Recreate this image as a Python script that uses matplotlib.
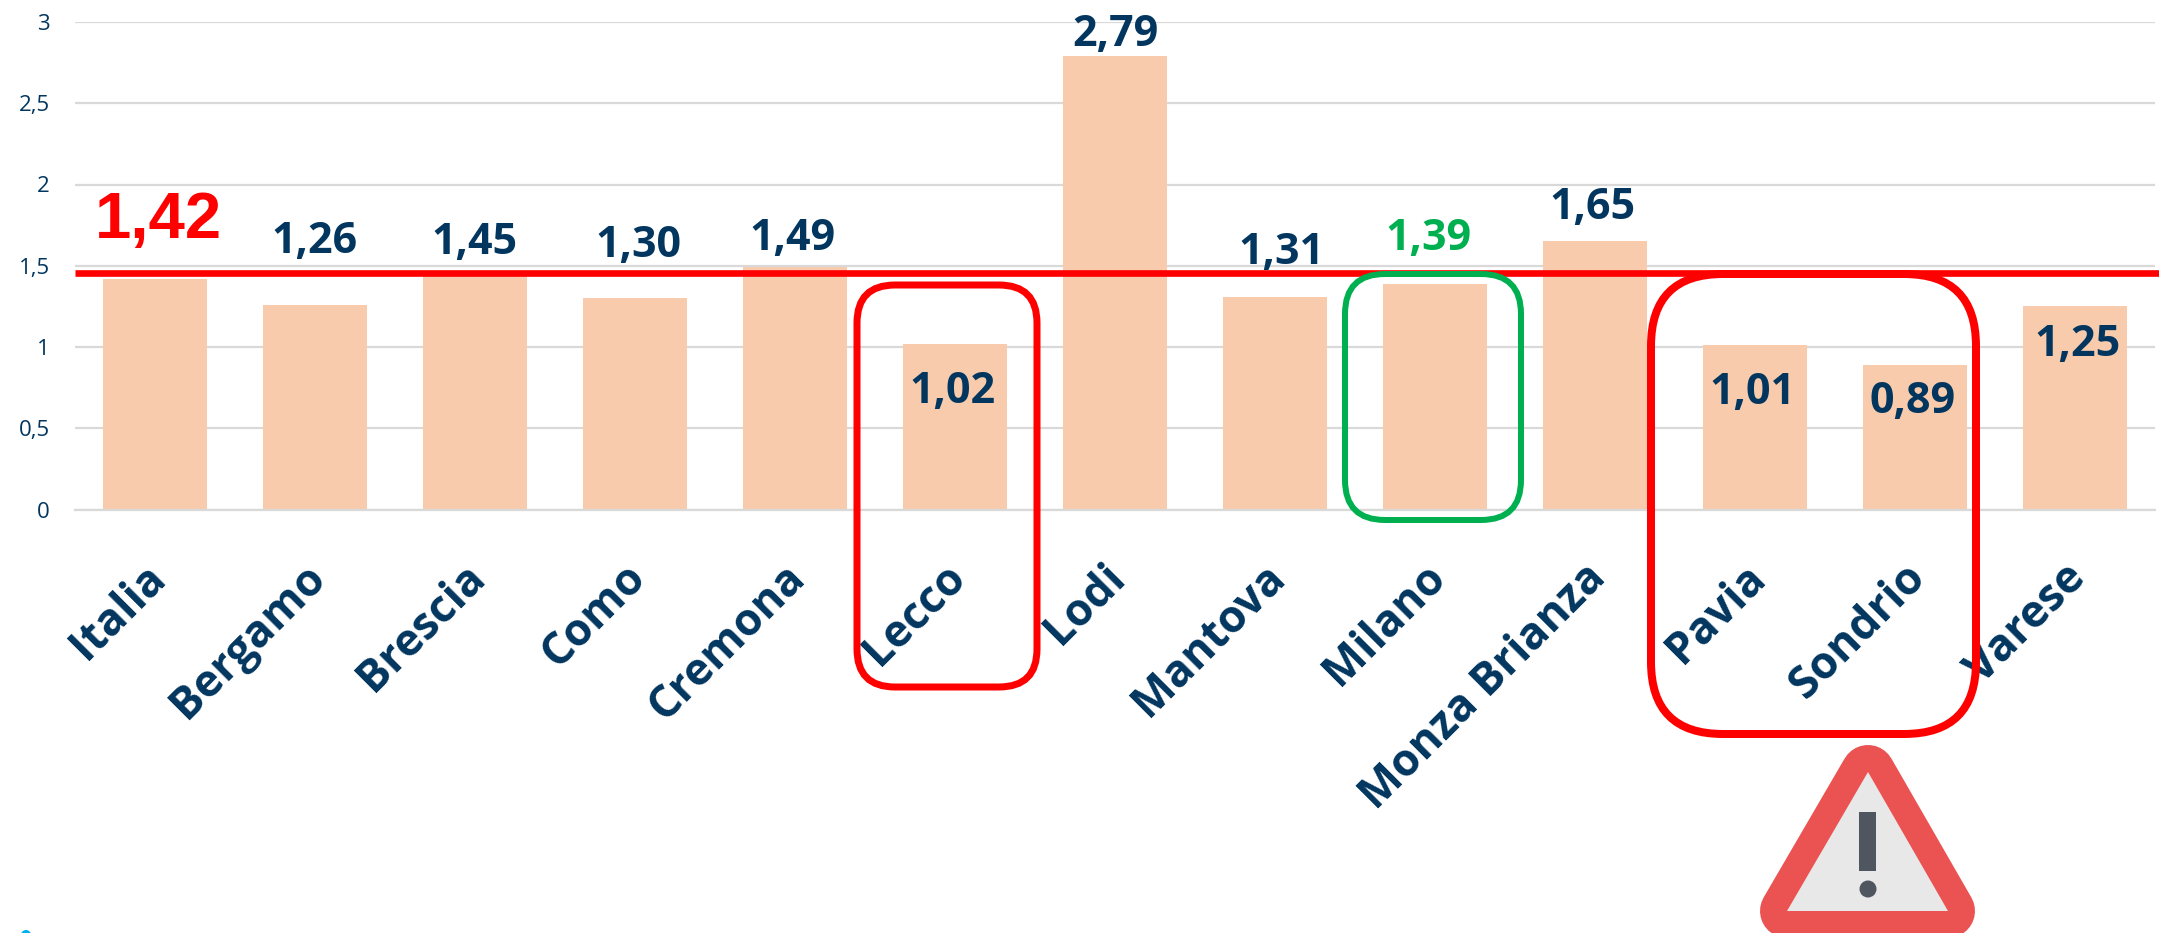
import matplotlib
matplotlib.use('Agg')
import matplotlib.pyplot as plt
from matplotlib.patches import FancyBboxPatch, Polygon, Rectangle, Circle
from matplotlib.transforms import Affine2D, ScaledTranslation

W, H = 2159, 933
NAVY = '#02365F'

provinces = ['Italia', 'Bergamo', 'Brescia', 'Como', 'Cremona', 'Lecco', 'Lodi',
             'Mantova', 'Milano', 'Monza Brianza', 'Pavia', 'Sondrio', 'Varese']
values = [1.42, 1.26, 1.45, 1.30, 1.49, 1.02, 2.79, 1.31, 1.39, 1.65, 1.01, 0.89, 1.25]
value_labels = ['1,42', '1,26', '1,45', '1,30', '1,49', '1,02', '2,79',
                '1,31', '1,39', '1,65', '1,01', '0,89', '1,25']
y_ticks = [0, 0.5, 1, 1.5, 2, 2.5, 3]
y_tick_labels = ['0', '0,5', '1', '1,5', '2', '2,5', '3']
reference_line = 1.455

# label offsets from the bar top, in pixels (x right, y up)
label_dx = [3, -1, 0, 3, -3, -3, 0, 6, -6, -2, -3, -2, 3]
label_dy = [64, 68, 36, 58, 34, -43, 27, 49, 50, 39, -42, -32, -33]

fig = plt.figure(figsize=(W / 100, H / 100), dpi=100, facecolor='white')
ax = fig.add_axes([75 / W, (H - 509.5) / H, 2080 / W, 487.5 / H])
ax.set_xlim(-0.5, 12.5)
ax.set_ylim(0, 3)

ax.bar(range(len(values)), values, width=0.65, color='#F7CBAC', zorder=2)
ax.set_axisbelow(True)
ax.grid(axis='y', color='#D9D9D9', lw=1.6, zorder=1)
for s in ['top', 'right', 'left']:
    ax.spines[s].set_visible(False)
ax.spines['bottom'].set_color('#D9D9D9')
ax.spines['bottom'].set_linewidth(1.6)

ax.set_yticks(y_ticks, y_tick_labels, family='Open Sans', fontsize=16, color=NAVY)
ax.tick_params(axis='y', length=0, pad=18)
ax.set_xticks(range(len(provinces)), provinces, family='Open Sans', fontweight='bold',
              fontsize=32, color=NAVY, rotation=45, ha='right', va='top',
              rotation_mode='anchor')
ax.tick_params(axis='x', length=0, pad=33)
shift = ScaledTranslation(-12 / 100, 0, fig.dpi_scale_trans)
for lab in ax.get_xticklabels():
    lab.set_transform(lab.get_transform() + shift)

ax.plot([-0.5, 12.6], [reference_line, reference_line], color='#FF0000', lw=4.8,
        zorder=3, clip_on=False, solid_capstyle='butt')

for i, txt in enumerate(value_labels):
    color = NAVY
    font = dict(family='Open Sans', fontweight='bold', fontsize=31)
    if i == 0:
        color = '#FF0000'
        font = dict(family='Liberation Sans', fontweight='bold', fontsize=47)
    elif provinces[i] == 'Milano':
        color = '#00B050'
    ax.annotate(txt, (i, values[i]), xytext=(label_dx[i], label_dy[i]),
                textcoords='offset pixels', ha='center', va='center_baseline',
                color=color, zorder=5, **font)

# overlay shapes drawn in image pixels, origin top left
px = Affine2D().scale(1, -1).translate(0, H)


def round_box(x0, y0, x1, y1, radius, color, width):
    fig.add_artist(FancyBboxPatch((x0, y0), x1 - x0, y1 - y0,
                                  boxstyle=f'round,pad=0,rounding_size={radius}',
                                  fc='none', ec=color, lw=width * 0.72, transform=px))


round_box(857, 285, 1037, 687, 38, '#FF0000', 7)
round_box(1345, 274, 1521, 520, 40, '#00B050', 6)
round_box(1651, 274, 1976, 734, 72, '#FF0000', 8)

corners = [(1868, 772), (1787, 911), (1948, 911)]
fig.add_artist(Polygon(corners, closed=True, fc='#EB5252', ec='#EB5252', lw=54 * 0.72,
                       joinstyle='round', transform=px))
fig.add_artist(Polygon(corners, closed=True, fc='#E8E8E8', ec='none', transform=px))
fig.add_artist(Rectangle((1859, 812), 17, 59, fc='#4F5660', ec='none', transform=px))
fig.add_artist(Circle((1868, 889), 8.5, fc='#4F5660', ec='none', transform=px))
fig.add_artist(Circle((26, 935), 5, fc='#00B0F0', ec='none', transform=px))

fig.savefig('out.png', dpi=100)
